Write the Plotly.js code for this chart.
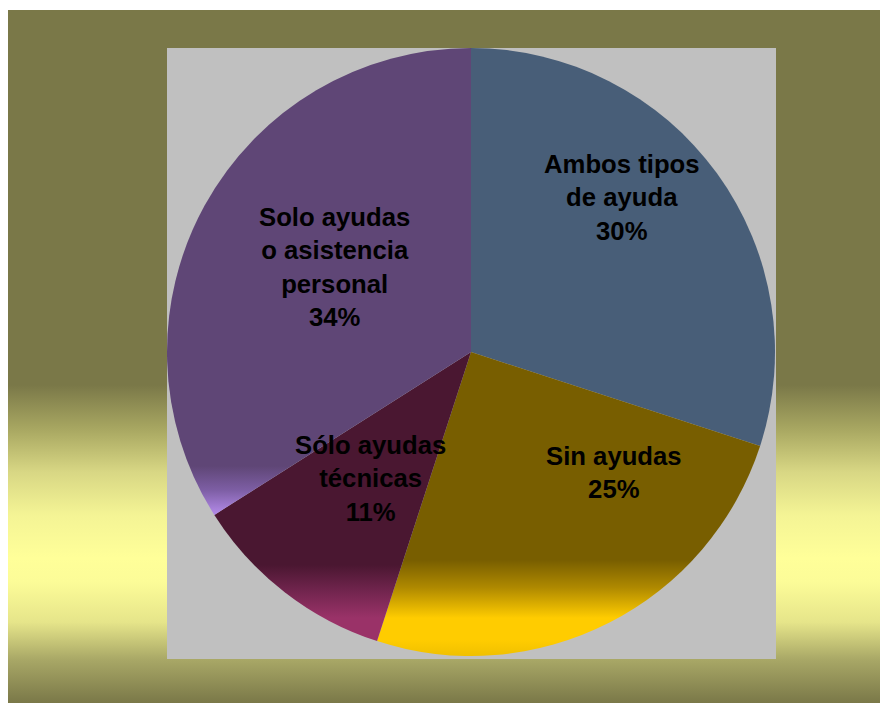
<!DOCTYPE html>
<html>
<head>
<meta charset="utf-8">
<script src="https://cdn.plot.ly/plotly-3.0.1.min.js"></script>
<style>
  html, body { margin: 0; padding: 0; background: #ffffff; }
  #wrap { position: relative; width: 880px; height: 703px; overflow: hidden; }
  #bg {
    position: absolute; left: 8px; top: 10px; width: 872px; height: 693px;
    background: linear-gradient(to bottom,
      #7a7848 0px, #7a7848 375px, #a9a862 420px, #d8d784 462px,
      #f4f495 505px, #ffff99 548px, #fcfc98 572px, #e6e58a 612px,
      #a8a766 650px, #7a7848 693px);
  }
  #chart { position: absolute; left: 0; top: 0; width: 880px; height: 703px; }
</style>
</head>
<body>
<div id="wrap">
  <div id="bg"></div>
  <div id="chart"></div>
</div>
<script>
// ---- data ----
var categories = ["Ambos tipos<br>de ayuda", "Sin ayudas", "Sólo ayudas<br>técnicas", "Solo ayudas<br>o asistencia<br>personal"];
var values = [30, 25, 11, 34];
var sliceColors = ["#485e78", "#785e00", "#4a1731", "#5f4676"];

// label placement (paper pixels of the reference)
var labelPos = [[622, 197], [614, 472], [370, 478], [334, 267]];

var W = 880, H = 703;
var total = values.reduce(function (a, b) { return a + b; }, 0);

var trace = {
  type: "pie",
  values: values,
  labels: categories,
  sort: false,
  direction: "clockwise",
  rotation: 0,
  textinfo: "none",
  hoverinfo: "label+percent",
  marker: { colors: sliceColors, line: { width: 0 } },
  domain: { x: [167 / W, 775 / W], y: [1 - 656 / H, 1 - 48 / H] },
  showlegend: false
};

var annotations = categories.map(function (c, i) {
  return {
    xref: "paper", yref: "paper",
    x: labelPos[i][0] / W, y: 1 - labelPos[i][1] / H,
    xanchor: "center", yanchor: "middle",
    text: c + "<br>" + Math.round(values[i] / total * 100) + "%",
    showarrow: false,
    align: "center",
    font: { family: "Liberation Sans, Arial, sans-serif", size: 25.7, color: "#000000", weight: "bold" }
  };
});
annotations.forEach(function (a) { a.text = "<b>" + a.text.split("<br>").join("</b><br><b>") + "</b>"; });

var layout = {
  width: W, height: H,
  margin: { l: 0, r: 0, t: 0, b: 0 },
  paper_bgcolor: "rgba(0,0,0,0)",
  plot_bgcolor: "rgba(0,0,0,0)",
  font: { family: "Liberation Sans, Arial, sans-serif" },
  shapes: [{
    type: "rect", xref: "paper", yref: "paper", layer: "below",
    x0: 167 / W, x1: 776 / W, y0: 1 - 659 / H, y1: 1 - 48 / H,
    fillcolor: "#c0c0c0", line: { width: 0 }
  }],
  annotations: annotations
};

// gradient bands near the bottom of some slices (page y, colour)
var sliceGradients = [
  null,
  [[560, "#785e00"], [588, "#b08a00"], [618, "#ffcc00"], [640, "#ffcc00"], [657, "#f0c000"]],
  [[565, "#4a1731"], [592, "#73254f"], [618, "#9a3268"]],
  [[466, "#5f4676"], [490, "#7d5ea4"], [512, "#ae86e2"]]
];

Plotly.newPlot("chart", [trace], layout, { displayModeBar: false, staticPlot: true }).then(function (gd) {
  var svg = gd.querySelector(".main-svg");
  var ns = "http://www.w3.org/2000/svg";
  var defs = svg.querySelector("defs") || svg.insertBefore(document.createElementNS(ns, "defs"), svg.firstChild);
  var wrapTop = gd.getBoundingClientRect().top;
  var paths = gd.querySelectorAll(".slice path.surface");
  paths.forEach(function (p, i) {
    var g = sliceGradients[i];
    if (!g) return;
    var r = p.getBoundingClientRect();
    var top = r.top - wrapTop, h = r.height;
    var lg = document.createElementNS(ns, "linearGradient");
    lg.setAttribute("id", "sliceGrad" + i);
    lg.setAttribute("x1", "0"); lg.setAttribute("y1", "0");
    lg.setAttribute("x2", "0"); lg.setAttribute("y2", "1");
    var s0 = document.createElementNS(ns, "stop");
    s0.setAttribute("offset", "0"); s0.setAttribute("stop-color", sliceColors[i]);
    lg.appendChild(s0);
    g.forEach(function (st) {
      var f = Math.max(0, Math.min(1, (st[0] - top) / h));
      var s = document.createElementNS(ns, "stop");
      s.setAttribute("offset", f.toFixed(4));
      s.setAttribute("stop-color", st[1]);
      lg.appendChild(s);
    });
    defs.appendChild(lg);
    p.style.setProperty("fill", "url(#sliceGrad" + i + ")");
  });
});
</script>
</body>
</html>
